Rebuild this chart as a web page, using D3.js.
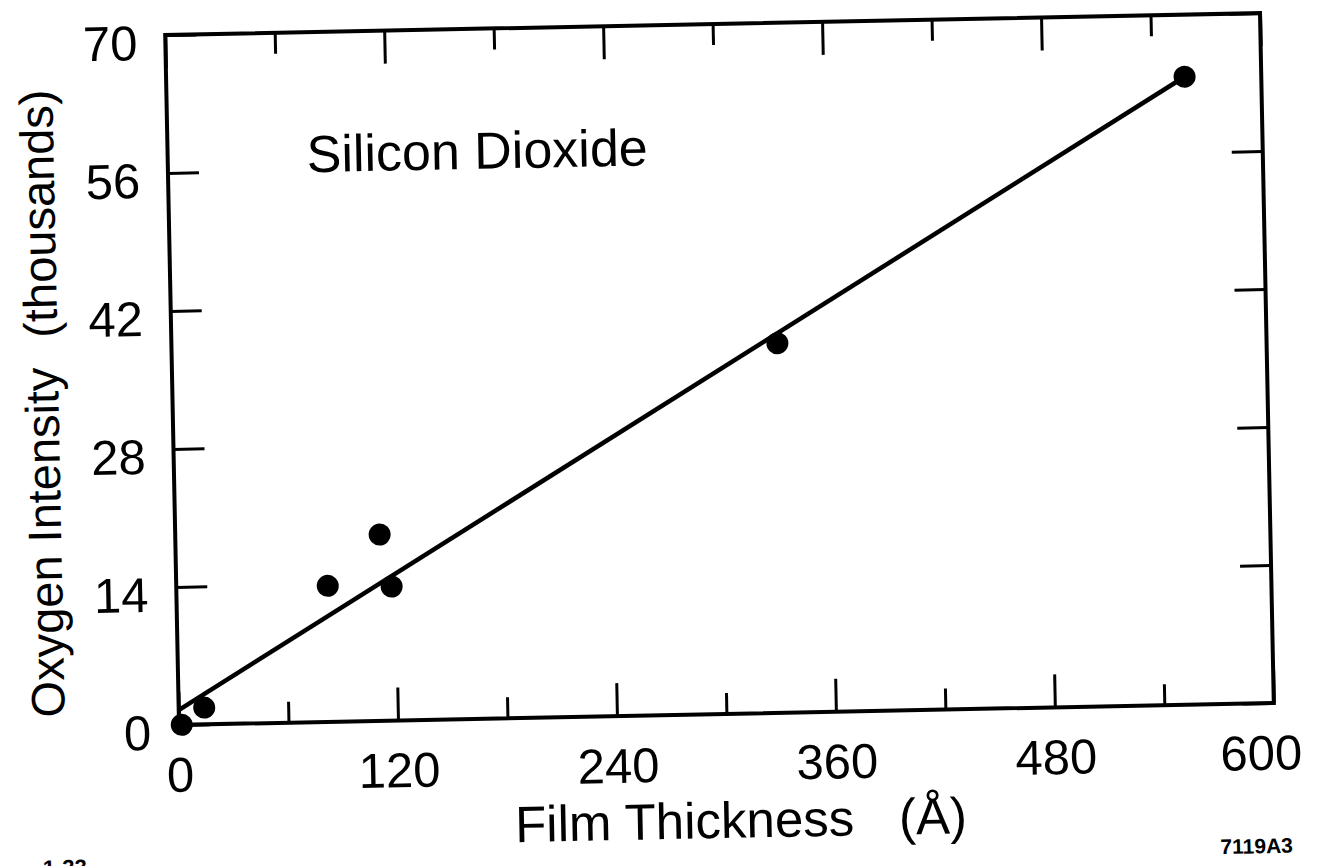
<!DOCTYPE html>
<html>
<head>
<meta charset="utf-8">
<script src="https://cdn.jsdelivr.net/npm/d3@7"></script>
<style>
  html, body { margin: 0; padding: 0; background: #fff; }
  text { font-family: 'Liberation Sans', Arial, Helvetica, sans-serif; fill: #000; }
</style>
</head>
<body>
<div class="canvas"></div>
<script>
// data
const thickness = [1.5, 14, 83, 112, 118, 332, 558]
const intensity = [0, 1.7, 13.8, 18.9, 13.6, 37.5, 63.7]
const fitThickness = [0, 558]
const fitIntensity = [1.5, 63.7]

const xMajorTicks = [0, 120, 240, 360, 480, 600]
const xMinorTicks = [60, 180, 300, 420, 540]
const yTicks = [0, 14, 28, 42, 56, 70]

const svgWidth = 1321, svgHeight = 866
const margin = { top: 24, left: 172 }
const graphWidth = 1095, graphHeight = 690

const svg = d3.select('.canvas')
  .append('svg')
  .attr('width', svgWidth)
  .attr('height', svgHeight)

// the original is a slightly tilted scan, so the whole figure is turned a little
const page = svg.append('g')
  .attr('transform', 'rotate(-1.146, 719.5, 369)')

const graph = page.append('g')
  .attr('transform', `translate(${margin.left}, ${margin.top})`)

// scales
const x = d3.scaleLinear().domain([0, 600]).range([0, graphWidth])
const y = d3.scaleLinear().domain([0, 70]).range([graphHeight, 0])

// frame
graph.append('rect')
  .attr('width', graphWidth)
  .attr('height', graphHeight)
  .attr('fill', 'none')
  .attr('stroke', '#000')
  .attr('stroke-width', 4)

// axes, ticks pointing inwards
const styleAxis = g => {
  g.select('.domain').remove()
  g.selectAll('line').attr('stroke', '#000').attr('stroke-width', 3)
}

const xAxisGroup = graph.append('g')
  .attr('transform', `translate(0, ${graphHeight})`)
  .call(d3.axisBottom(x).tickValues(xMajorTicks).tickSize(-33).tickPadding(32))
  .call(styleAxis)

xAxisGroup.selectAll('text')
  .style('font-size', '49px')
  .attr('dx', d => d == 600 ? -14 : 0)

graph.append('g')
  .attr('transform', `translate(0, ${graphHeight})`)
  .call(d3.axisBottom(x).tickValues(xMinorTicks).tickSize(-21).tickFormat(''))
  .call(styleAxis)

graph.append('g')
  .call(d3.axisTop(x).tickValues(xMajorTicks).tickSize(-33).tickFormat(''))
  .call(styleAxis)

graph.append('g')
  .call(d3.axisTop(x).tickValues(xMinorTicks).tickSize(-21).tickFormat(''))
  .call(styleAxis)

const yAxisGroup = graph.append('g')
  .call(d3.axisLeft(y).tickValues(yTicks).tickSize(-31).tickPadding(28))
  .call(styleAxis)

yAxisGroup.selectAll('text')
  .style('font-size', '49px')
  .attr('dy', '0.49em')

graph.append('g')
  .attr('transform', `translate(${graphWidth}, 0)`)
  .call(d3.axisRight(y).tickValues(yTicks).tickSize(-31).tickFormat(''))
  .call(styleAxis)

// fitted line
const line = d3.line()
  .x(d => x(d[0]))
  .y(d => y(d[1]))

graph.append('path')
  .datum(d3.zip(fitThickness, fitIntensity))
  .attr('fill', 'none')
  .attr('stroke', '#000')
  .attr('stroke-width', 4.5)
  .attr('d', line)

// measured points
graph.selectAll('circle')
  .data(d3.zip(thickness, intensity))
  .enter()
  .append('circle')
  .attr('cx', d => x(d[0]))
  .attr('cy', d => y(d[1]))
  .attr('r', 11)
  .attr('fill', '#000')

// labels
graph.append('text')
  .attr('x', 139)
  .attr('y', 140)
  .style('font-size', '52px')
  .text('Silicon Dioxide')

graph.append('text')
  .attr('x', 334)
  .attr('y', 814)
  .style('font-size', '51px')
  .text('Film Thickness')

graph.append('text')
  .attr('x', 718)
  .attr('y', 814)
  .style('font-size', '51px')
  .text('(Å)')

page.append('text')
  .attr('transform', 'translate(58, 704) rotate(-90)')
  .style('font-size', '47px')
  .text('Oxygen Intensity')

page.append('text')
  .attr('transform', 'translate(58, 76) rotate(-90)')
  .attr('text-anchor', 'end')
  .style('font-size', '47px')
  .text('(thousands)')

page.append('text')
  .attr('x', 1247)
  .attr('y', 864)
  .attr('text-anchor', 'middle')
  .style('font-size', '21px')
  .style('font-weight', 'bold')
  .text('7119A3')

page.append('text')
  .attr('x', 33)
  .attr('y', 862)
  .style('font-size', '22px')
  .style('font-weight', 'bold')
  .text('1-33')
</script>
</body>
</html>
